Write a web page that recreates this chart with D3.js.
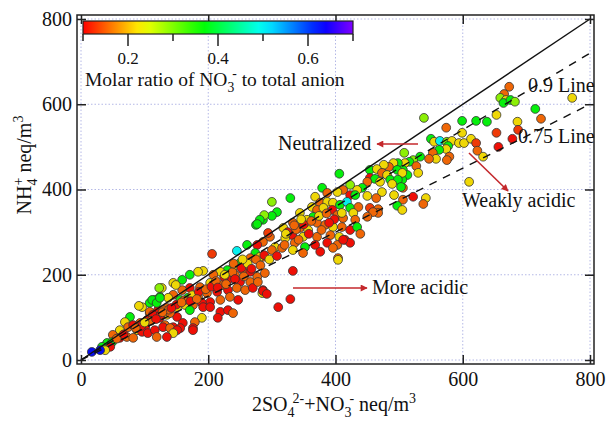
<!DOCTYPE html>
<html><head><meta charset="utf-8">
<script src="https://cdn.jsdelivr.net/npm/d3@7"></script>
<style>
body{margin:0;background:#fff;}
text{font-family:"Liberation Serif","Times New Roman",serif;fill:#111;}
</style></head><body>
<svg id="chart" width="608" height="422"></svg>
<script>
// 2SO4(2-) + NO3(-) , neq/m3
const sumAnion = [
673,665,659,668,664,675,682,772,714,723,
686,687,653,678,656,539,599,621,638,653,
574,599,550,555,564,575,583,594,602,613,
621,623,632,577,574,563,553,579,558,575,
547,533,522,516,509,527,506,530,513,610,
505,506,522,542,538,508,498,491,484,476,
454,465,473,481,497,505,406,454,462,450,
470,486,498,489,503,442,434,423,412,473,
450,464,492,506,379,387,403,423,431,329,
300,368,376,387,396,407,418,423,436,454,
467,497,505,467,459,450,308,300,286,275,
344,363,371,381,395,403,412,428,431,365,
355,371,384,396,410,423,434,333,318,344,
357,332,349,371,392,406,415,387,403,368,
352,336,321,297,286,277,305,316,333,349,
376,404,274,286,288,281,277,294,261,245,
206,266,281,250,255,239,230,219,208,192,
184,171,159,145,127,124,116,108,96,242,
266,277,289,266,250,231,222,203,187,171,
159,145,137,156,168,184,198,214,231,245,
258,270,278,286,285,247,234,219,203,190,
176,164,151,135,121,108,104,119,135,151,
171,192,203,219,190,179,160,145,176,156,
132,231,215,239,310,329,286,292,176,333,
404,439,423,412,396,123,149,112,119,124,
91,108,129,140,113,124,77,69,74,82,
93,101,88,96,105,116,129,140,151,119,
145,61,50,61,72,82,41,49,33,46,
38,30,17,135,
95,110,125,138,150,162,175,185,100,118,
142,158,172,182,196,205,128,86,67,56,
212,225,238,252,262,275,288,300,215,228,
242,256,268,282,296,308,320,226,240,254,
325,338,350,362,374,386,398,410,342,358,
378,390,322,335,346
];
// NH4(+) , neq/m3
const nh4 = [
641,624,615,610,603,610,606,615,589,566,
559,540,533,519,500,568,561,561,559,575,
545,533,519,512,514,512,514,509,509,519,
509,491,477,502,495,493,486,477,472,469,
472,477,469,465,462,455,446,439,434,418,
423,404,383,380,366,486,462,462,453,458,
446,448,439,434,446,439,437,427,425,418,
418,423,423,413,406,404,399,411,399,394,
385,380,387,376,404,392,394,387,387,380,
371,383,369,371,369,364,371,357,359,357,
354,362,352,345,347,336,347,338,329,317,
345,359,352,357,352,340,333,345,329,336,
329,322,317,312,312,305,312,322,310,310,
305,293,289,289,293,289,282,275,270,270,
265,275,286,289,277,270,265,263,258,251,
254,239,251,242,340,329,319,298,270,256,
249,239,242,228,211,218,211,207,200,209,
207,200,188,181,169,148,141,134,124,200,
207,195,204,183,183,188,176,181,171,169,
164,153,146,141,146,148,157,160,164,169,
164,169,183,164,157,141,148,141,136,134,
129,129,124,122,117,110,94,99,106,101,
117,124,124,113,99,89,87,77,75,75,
82,117,99,110,124,143,162,155,70,209,
235,296,275,282,263,169,176,141,134,146,
127,113,117,110,106,99,101,89,77,82,
87,77,70,66,63,70,77,75,70,54,
63,70,59,52,54,52,40,42,31,31,
23,23,19,54,
80,92,105,118,130,140,152,160,88,96,
122,135,138,143,166,172,112,75,60,50,
185,195,206,216,226,236,246,258,170,178,
190,196,214,222,236,244,270,200,226,236,
300,306,318,326,338,344,330,345,282,296,
305,322,296,316,330
];
// molar ratio of NO3- to total anion
const no3Ratio = [
.155,.155,.29,.22,.37,.37,.29,.22,.37,.155,
.22,.13,.13,.105,.105,.29,.37,.37,.37,.22,
.155,.22,.37,.22,.5,.29,.22,.22,.22,.22,
.13,.155,.22,.37,.22,.37,.155,.155,.22,.155,
.155,.37,.29,.37,.22,.155,.37,.22,.37,.22,
.37,.155,.105,.22,.155,.29,.37,.22,.155,.22,
.37,.22,.155,.22,.37,.22,.37,.105,.37,.155,
.22,.37,.37,.22,.37,.37,.22,.29,.155,.22,
.22,.155,.22,.155,.37,.155,.22,.105,.37,.37,
.29,.22,.155,.22,.22,.37,.5,.37,.155,.13,
.155,.37,.22,.155,.155,.155,.37,.37,.37,.37,
.22,.22,.155,.22,.105,.155,.155,.22,.155,.37,
.22,.155,.155,.22,.155,.105,.37,.155,.22,.155,
.22,.105,.22,.155,.155,.22,.105,.105,.155,.105,
.37,.155,.22,.155,.155,.105,.22,.155,.22,.155,
.105,.155,.37,.155,.29,.37,.37,.13,.37,.5,
.13,.155,.22,.37,.155,.22,.37,.22,.155,.22,
.22,.37,.37,.22,.22,.37,.29,.37,.22,.155,
.105,.155,.155,.155,.105,.105,.155,.22,.155,.105,
.155,.155,.22,.37,.37,.155,.155,.105,.105,.155,
.155,.105,.155,.105,.22,.105,.155,.155,.105,.105,
.155,.22,.22,.155,.105,.155,.105,.155,.22,.105,
.37,.105,.105,.105,.22,.155,.105,.105,.105,.105,
.155,.105,.105,.155,.105,.105,.105,.105,.105,.105,
.22,.155,.105,.105,.155,.29,.22,.37,.37,.37,
.22,.155,.155,.155,.105,.105,.37,.22,.155,.105,
.155,.105,.22,.105,.105,.105,.105,.155,.105,.155,
.22,.22,.155,.105,.155,.155,.37,.37,.37,.105,
.22,.63,.63,.105,
.105,.155,.105,.155,.105,.155,.22,.105,.22,.105,
.105,.155,.105,.155,.155,.105,.155,.155,.105,.155,
.155,.105,.155,.105,.22,.155,.105,.155,.105,.155,
.105,.155,.105,.155,.22,.105,.155,.22,.155,.22,
.105,.155,.105,.155,.22,.155,.105,.22,.155,.105,
.155,.105,.22,.155,.22
];
const axisTicks = [0,200,400,600,800];
const colorbarDomain = [0.1,0.7];
const colorbarTicks = [0.2,0.4,0.6];
const colorbarMinor = [0.1,0.3,0.5,0.7];
const refSlopes = [1,0.9,0.75];

const svg = d3.select("#chart");
const frame = {l:77,r:594,t:15,b:364};
const x = d3.scaleLinear().domain([0,800]).range([81,590]);
const y = d3.scaleLinear().domain([0,800]).range([360,19]);
const hue = d3.scaleLinear().domain(colorbarDomain).range([0,270]).clamp(true);
const color = r => d3.hsl(hue(r),0.95,0.48).formatHex();

const defs = svg.append("defs");
defs.append("clipPath").attr("id","clip").append("rect")
  .attr("x",frame.l).attr("y",frame.t).attr("width",frame.r-frame.l).attr("height",frame.b-frame.t);
const grad = defs.append("linearGradient").attr("id","cbar");
d3.range(0,1.0001,0.05).forEach(t=>{
  grad.append("stop").attr("offset",t).attr("stop-color",d3.hsl(270*t,1,0.5).formatHex());
});
defs.append("marker").attr("id","arr").attr("viewBox","0 0 10 10").attr("refX",9).attr("refY",5)
  .attr("markerWidth",10).attr("markerHeight",7).attr("markerUnits","userSpaceOnUse").attr("orient","auto")
  .append("path").attr("d","M0,0L10,5L0,10Z").attr("fill","#c4282c");

// grid
const grid = svg.append("g").attr("stroke","#b4b8e6").attr("stroke-width",1).attr("stroke-dasharray","1.5,2");
axisTicks.forEach(v=>{
  grid.append("line").attr("x1",x(v)).attr("x2",x(v)).attr("y1",frame.t).attr("y2",frame.b);
  grid.append("line").attr("y1",y(v)).attr("y2",y(v)).attr("x1",frame.l).attr("x2",frame.r);
});

// points
const idx = d3.range(sumAnion.length);
svg.append("g").attr("clip-path","url(#clip)").selectAll("circle").data(idx).join("circle")
  .attr("cx",i=>x(sumAnion[i])).attr("cy",i=>y(nh4[i])).attr("r",4.4)
  .attr("fill",i=>color(no3Ratio[i])).attr("stroke","#333").attr("stroke-width",0.8);

// reference lines
const lines = svg.append("g").attr("clip-path","url(#clip)");
refSlopes.forEach(s=>{
  lines.append("line").attr("x1",x(0)).attr("y1",y(0)).attr("x2",x(800)).attr("y2",y(800*s))
    .attr("stroke","#111").attr("stroke-width",1.4)
    .attr("stroke-dasharray",s===1?null:"8,7");
});

// axes
function styleAxis(g){ g.select(".domain").remove(); g.selectAll(".tick line").attr("stroke","#222").attr("stroke-width",1.5);
  g.selectAll("text").style("font-family",'"Liberation Serif",serif').style("font-size","20px").attr("fill","#111"); }
svg.append("g").attr("transform",`translate(0,${frame.b})`)
  .call(d3.axisBottom(x).tickValues(axisTicks).tickSize(-9).tickPadding(8).tickFormat(d3.format("d"))).call(styleAxis);
svg.append("g").attr("transform",`translate(${frame.l},0)`)
  .call(d3.axisLeft(y).tickValues(axisTicks).tickSize(-9).tickPadding(5).tickFormat(d3.format("d"))).call(styleAxis);
svg.append("g").attr("transform",`translate(${frame.r},0)`)
  .call(d3.axisRight(y).tickValues(axisTicks).tickSize(-9).tickFormat("")).call(styleAxis);
svg.append("g").attr("transform",`translate(0,${frame.t})`)
  .call(d3.axisTop(x).tickValues(axisTicks).tickSize(-9).tickFormat("")).call(styleAxis);
svg.append("rect").attr("x",frame.l).attr("y",frame.t).attr("width",frame.r-frame.l).attr("height",frame.b-frame.t)
  .attr("fill","none").attr("stroke","#222").attr("stroke-width",1.5);

// colorbar
const cb = d3.scaleLinear().domain(colorbarDomain).range([83,353]);
svg.append("rect").attr("x",cb(0.1)).attr("y",21).attr("width",cb(0.7)-cb(0.1)).attr("height",13)
  .attr("fill","url(#cbar)").attr("stroke","#222").attr("stroke-width",1.2);
colorbarTicks.forEach(v=>{
  svg.append("line").attr("x1",cb(v)).attr("x2",cb(v)).attr("y1",34).attr("y2",46).attr("stroke","#222").attr("stroke-width",1.5);
  svg.append("text").attr("x",cb(v)).attr("y",64).attr("text-anchor","middle").attr("font-size",17).text(d3.format(".1f")(v));
});
colorbarMinor.forEach(v=>{
  svg.append("line").attr("x1",cb(v)).attr("x2",cb(v)).attr("y1",34).attr("y2",41).attr("stroke","#222").attr("stroke-width",1.5);
});

function rich(t, parts, size){
  let cur = 0;
  parts.forEach(p=>{
    const target = p.s==="sub" ? size*0.3 : p.s==="sup" ? -size*0.42 : 0;
    const ts = t.append("tspan").text(p.t);
    if(target-cur!==0) ts.attr("dy",target-cur);
    if(p.s) ts.attr("font-size",size*0.7);
    if(p.dx) ts.attr("dx",p.dx);
    cur = target;
  });
}
rich(svg.append("text").attr("x",85).attr("y",86).attr("font-size",19.5),
  [{t:"Molar ratio of NO"},{t:"3",s:"sub"},{t:"-",s:"sup",dx:-2},{t:" to total anion"}],19.5);

// axis titles
rich(svg.append("text").attr("x",334).attr("y",411).attr("text-anchor","middle").attr("font-size",20),
  [{t:"2SO"},{t:"4",s:"sub"},{t:"2-",s:"sup",dx:-2},{t:"+NO"},{t:"3",s:"sub"},{t:"-",s:"sup",dx:-2},{t:" neq/m"},{t:"3",s:"sup"}],20);
rich(svg.append("text").attr("transform","translate(31,165) rotate(-90)").attr("text-anchor","middle").attr("font-size",20),
  [{t:"NH"},{t:"4",s:"sub"},{t:"+",s:"sup",dx:-7},{t:" neq/m"},{t:"3",s:"sup"}],20);

// annotations
const ann = svg.append("g").attr("font-size",20);
ann.append("text").attr("x",528).attr("y",92).attr("font-size",20).text("0.9 Line");
ann.append("text").attr("x",518).attr("y",143).attr("font-size",20).text("0.75 Line");
ann.append("text").attr("x",278).attr("y",150).attr("font-size",20).text("Neutralized");
ann.append("text").attr("x",462).attr("y",207).attr("font-size",20).text("Weakly acidic");
ann.append("text").attr("x",372).attr("y",294).attr("font-size",20).text("More acidic");
const arrows = [[418,144,377,144],[469,153,508,191],[293,288,367,288]];
arrows.forEach(a=>{
  svg.append("line").attr("x1",a[0]).attr("y1",a[1]).attr("x2",a[2]).attr("y2",a[3])
    .attr("stroke","#c4282c").attr("stroke-width",1.6).attr("marker-end","url(#arr)");
});
</script>
</body></html>
